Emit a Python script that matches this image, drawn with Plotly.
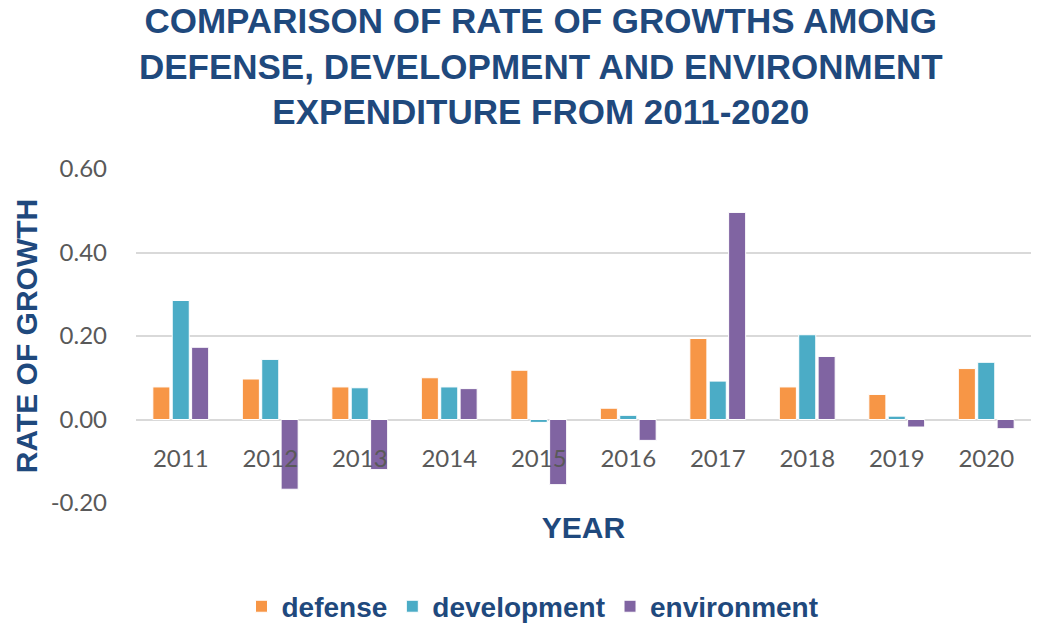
import plotly.graph_objects as go

years = ["2011", "2012", "2013", "2014", "2015", "2016", "2017", "2018", "2019", "2020"]
defense = [0.078, 0.097, 0.078, 0.100, 0.118, 0.027, 0.194, 0.078, 0.060, 0.122]
development = [0.285, 0.144, 0.076, 0.078, -0.007, 0.010, 0.092, 0.203, 0.008, 0.137]
environment = [0.173, -0.167, -0.120, 0.074, -0.156, -0.050, 0.496, 0.151, -0.018, -0.022]

series = [("defense", defense, "#F79646"),
          ("development", development, "#4BACC6"),
          ("environment", environment, "#8064A2")]

y_range = [-0.2, 0.6]
y_ticks = [-0.2, 0.0, 0.2, 0.4, 0.6]
y_ticklabels = ["-0.20", "0.00", "0.20", "0.40", "0.60"]

fig = go.Figure()
for name, vals, col in series:
    fig.add_trace(go.Bar(x=years, y=vals, name=name,
                         marker=dict(color=col, line=dict(color="white", width=1))))

title_color = "#1F497D"
zero_pos = (0 - y_range[0]) / (y_range[1] - y_range[0])

fig.update_layout(
    width=1044, height=624,
    paper_bgcolor="white", plot_bgcolor="white",
    margin=dict(l=136, r=13, t=169, b=121, autoexpand=False),
    barmode="group", bargap=0.35, bargroupgap=0.12,
    title=dict(text="COMPARISON OF RATE OF GROWTHS AMONG<br>DEFENSE, DEVELOPMENT AND ENVIRONMENT<br>EXPENDITURE FROM 2011-2020",
               x=0.518, xanchor="center", xref="container", yref="container", y=0.947, yanchor="middle",
               font=dict(family="Liberation Sans", size=35, color=title_color, weight="bold")),
    legend=dict(orientation="h", x=0.443, xanchor="center", y=-0.31, yanchor="middle",
                font=dict(family="Liberation Sans", size=28, color=title_color, weight="bold"),
                itemwidth=30, traceorder="normal"),
    xaxis=dict(type="category", anchor="free", position=zero_pos, showgrid=False, showline=False,
               ticks="", ticklabelstandoff=22, automargin=False,
               tickfont=dict(family="Lato", size=24, color="#595959"),
               title=dict(text="YEAR", standoff=46,
                          font=dict(family="Liberation Sans", size=30, color=title_color, weight="bold"))),
    yaxis=dict(range=y_range, tickvals=y_ticks, ticktext=y_ticklabels, showgrid=True,
               gridcolor="#D9D9D9", gridwidth=2, zeroline=True, zerolinecolor="#D9D9D9", zerolinewidth=2,
               showline=False, ticks="", ticklabelstandoff=28, automargin=False,
               tickfont=dict(family="Lato", size=24, color="#595959"),
               title=dict(text="RATE OF GROWTH", standoff=4,
                          font=dict(family="Liberation Sans", size=30, color=title_color, weight="bold"))),
)

fig.write_html("out.html")
